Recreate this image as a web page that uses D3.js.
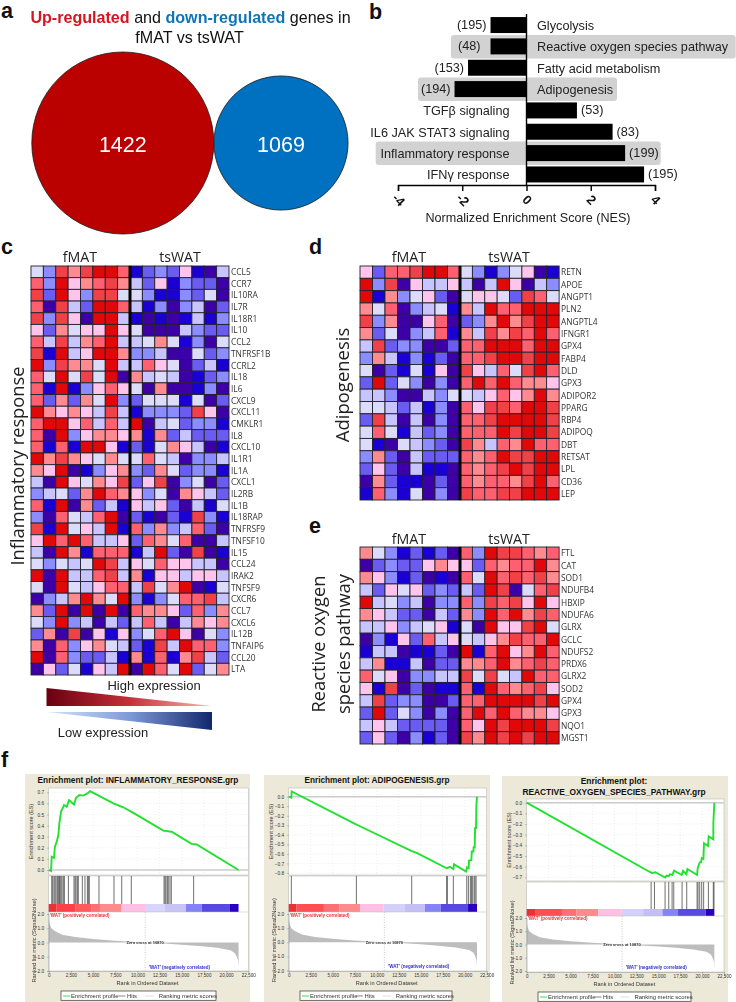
<!DOCTYPE html>
<html><head><meta charset="utf-8">
<script src="https://cdn.jsdelivr.net/npm/d3@7/dist/d3.min.js"></script>
<style>
html,body{margin:0;padding:0;background:#fff;overflow:hidden}
svg{display:block}
.ar{font-family:"Liberation Sans",Arial,sans-serif}
.ca{font-family:"Open Sans","Noto Sans",sans-serif}
.soft{filter:blur(.35px)}
.softer{filter:blur(.55px)}
</style></head><body><div id="c"></div>
<script>
// ---------- panel a ----------
const vennLabels = ["Up-regulated","down-regulated"];
const vennCounts = [1422,1069];
// ---------- panel b ----------
const pathways = ["Glycolysis","Reactive oxygen species pathway","Fatty acid metabolism","Adipogenesis","TGFβ signaling","IL6 JAK STAT3 signaling","Inflammatory response","IFNγ response"];
const nes = [-1.12,-1.12,-1.82,-2.24,1.57,2.68,3.07,3.66];
const geneSetSizes = [195,48,153,194,53,83,199,195];
const nesTicks = [-4,-2,0,2,4];
// ---------- panels c, d, e: heat levels a(lowest) .. k(highest) ----------
const heatLevels = "abcdefghijk".split("");
const heatColors = ["#3c00a6","#1a00d2","#6a5cf0","#8a8cff","#c8c4ff","#dcdcfa","#ffc4ec","#ff8a90","#ff6070","#f04048","#e00808"];
const inflGenes = ["CCL5","CCR7","IL10RA","IL7R","IL18R1","IL10","CCL2","TNFRSF1B","CCRL2","IL18","IL6","CXCL9","CXCL11","CMKLR1","IL8","CXCL10","IL1R1","IL1A","CXCL1","IL2RB","IL1B","IL18RAP","TNFRSF9","TNFSF10","IL15","CCL24","IRAK2","TNFSF9","CXCR6","CCL7","CXCL6","IL12B","TNFAIP6","CCL20","LTA"];
const inflHeat = ["fdjhjkkibcdcgbae","idkghijhecgbdcca","jckgdjjffdbbdcfa","iajeckkiebdadeac","jdjgakkebababebd","gchfggkgfaaaedcc","iejehikeefhfbdaf","jbkegkkhddeaafcd","kdjhhfkeeigfaceb","ifkfjfkahefeabcd","ibkbdgigfahaabda","ichchfkdcfffbfac","khghgejebdddcjga","ikkgieiekaefcddb","iakdghhghbhceccc","ibibkkgbcbfhgeab","khjhgfhffifeadde","hgkabdghdchfcddb","eakgfhgjcgjadfac","defchkihgdfahgec","ibkahcebgegcaebf","daifeikacbacbjdb","jbkfgekbidhdeica","gkikieegcihfiaae","eakhbiiibekcajab","fdfefkjegfiggeea","kakeeijehbggegge","fakfegiiejfhkabf","adehkhfkdbdfiije","hckakakaihhgcidh","fdkdeaeceieaehgh","chajagbgdfikgafd","haidghfecbjekiid","kaidccebhbibhjec","agcfbgekakifkcfh"];
const adipoGenes = ["RETN","APOE","ANGPT1","PLN2","ANGPTL4","IFNGR1","GPX4","FABP4","DLD","GPX3","ADIPOR2","PPARG","RBP4","ADIPOQ","DBT","RETSAT","LPL","CD36","LEP"];
const adipoHeat = ["gciijkkifdbdfgab","kdjageegeaekgaed","kbhdfgcafggfcjif","hfiadefbhekiikkk","jdhaagiacdhkhjkk","hcfadeibhejhjiki","ejcddaaciikkkikk","dhebdbcaiijkkjkk","facbfbgajgeifjki","ckcfdadaikikihhg","eedaaedffegighkh","ffecebdaigjjikkj","cjeaeadaiijkkkkj","fifbecdaiiikjkkj","fbafedcajheihkii","dhcaecccihikjjkk","cgcaebbaihijkjkk","ahcbbacaihiihjki","bidbfadajiijjkkk"];
const rosGenes = ["FTL","CAT","SOD1","NDUFB4","HBXIP","NDUFA6","GLRX","GCLC","NDUFS2","PRDX6","GLRX2","SOD2","GPX4","GPX3","NQO1","MGST1"];
const rosHeat = ["hfdbcbcaidkjjihi","acdccghggcihiikh","hgdbcabaifkijijh","ecgfgcdceckjafij","kefdeaddidjijgkg","hgeccaechdkikhji","eegdefgbfakggjkf","adbgciegfeghjiik","beeabbcakbikghki","ehbbeacchhikhiji","ifgaddeejfjfekii","gbjacabbibkihijg","ejcddaaciikkkkjk","ckcfdadaikikihhg","egeccccaigkjkkkj","cgcadbcajhkjkjkk"];
// ---------- panel f ----------
const rankTicks = [0,2500,5000,7500,10000,12500,15000,17500,20000,22500];
const metricTicks = [-2,-1,0,1,2];
const rankedMetric = [[0,1.7],[100,1.3],[300,1.0],[700,.8],[1500,.55],[3000,.38],[5000,.25],[7500,.13],[10870,0],[13000,-.07],[15000,-.15],[17000,-.25],[19000,-.37],[20500,-.55],[21000,-.75],[21200,-1.0],[21350,-1.3],[21400,-1.8]];
const barColors = ["#ec3038","#ff4f50","#ff7074","#ff8a8c","#ffc0e4","#d4d0fa","#c4c0f6","#8484f8","#5848e4","#2a00c0"];
const inflBarColors = ["#ec3038","#ff4048","#ff5a5c","#ff7074","#ff8a8c","#ffc0e4","#d8d4fa","#c8c4f6","#8484f8","#5848e4","#2a00c0"];
const inflES = [[0,0],[260,-.01],[340,.12],[600,.11],[700,.21],[900,.255],[1090,.315],[1200,.42],[1390,.525],[1730,.585],[2030,.57],[2290,.63],[2850,.59],[3080,.65],[3460,.675],[3900,.67],[4360,.69],[4660,.71],[5630,.67],[7290,.6],[8400,.565],[9540,.515],[12920,.355],[13860,.345],[16110,.235],[16680,.23],[21400,0]];
const inflHits = [340,450,600,710,830,980,1090,1200,1280,1390,1500,1650,1770,2220,2850,2970,3080,3230,3340,3790,4090,4360,4470,4580,5670,7360,8230,9310,13000,13110,13220,13370,13480,13670,13820,16340];
const inflBar = [900,3000,4800,5780,8150,10855,13100,15470,17240,20430,21400];
const adipoES = [[0,0],[300,-.01],[340,.055],[7540,-.285],[8100,-.31],[13980,-.57],[14550,-.59],[17950,-.75],[18330,-.735],[18710,-.76],[18790,-.71],[20150,-.785],[20270,-.74],[20450,-.75],[20490,-.67],[20760,-.665],[20800,-.575],[20990,-.575],[21020,-.53],[21140,-.53],[21175,-.33],[21290,-.33],[21330,-.09],[21400,0]];
const adipoHits = [300,7690,13980,17950,18030,18710,20230,20420,20640,20760,20870,21060,21170,21290];
const adipoBar = [900,4000,5760,8100,10760,13220,15490,17270,20380,21400];
const rosES = [[0,0],[14040,-.65],[14300,-.66],[14680,-.653],[15780,-.703],[15940,-.684],[16200,-.69],[16310,-.672],[16620,-.678],[16810,-.637],[17680,-.678],[17830,-.64],[18210,-.672],[18330,-.622],[19430,-.678],[19500,-.615],[19730,-.56],[19880,-.56],[19960,-.52],[20150,-.528],[20220,-.38],[20680,-.406],[20750,-.316],[21280,-.344],[21290,-.184],[21400,0]];
const rosHits = [14190,14570,15780,16200,16580,16770,17720,18250,19430,19540,19730,19960,20180,20720,21280,21360];
const rosBar = [950,4020,5690,8160,10850,13280,15480,17260,20410,21400];

const W=736,H=1002;
const svg=d3.select("#c").append("svg").attr("width",W).attr("height",H).attr("viewBox",[0,0,W,H]);
const defs=svg.append("defs");

function letter(t,x,y){svg.append("text").attr("class","ar").attr("x",x).attr("y",y).attr("font-size",21.5).attr("font-weight",700).attr("fill","#111").text(t);}
letter("a",1,18);letter("b",369,19);letter("c",1,254);letter("d",309,254);letter("e",309,533);letter("f",1,767);

// ---------- a ----------
const ga=svg.append("g").attr("class","ar soft");
const rScale=d3.scaleLinear().domain([0,1422]).range([0,91]);
const red="#bb0000",blue="#0070c0";
const vennX=[122.8,281];
[0,1].forEach(i=>{
  ga.append("circle").attr("cx",vennX[i]).attr("cy",143).attr("r",rScale(vennCounts[i])*(i?0.98:1)).attr("fill",i?blue:red).attr("stroke","#1a1a1a").attr("stroke-width",.8);
  ga.append("text").attr("x",vennX[i]).attr("y",152).attr("text-anchor","middle").attr("font-size",21.5).attr("fill","#fff").text(vennCounts[i]);
});
const t1=ga.append("text").attr("x",190.5).attr("y",23).attr("text-anchor","middle").attr("font-size",16.1).attr("fill","#111");
t1.append("tspan").attr("font-weight",700).attr("fill","#d8141e").text(vennLabels[0]);
t1.append("tspan").text(" and ");
t1.append("tspan").attr("font-weight",700).attr("fill","#0f74b8").text(vennLabels[1]);
t1.append("tspan").text(" genes in");
ga.append("text").attr("x",189.5).attr("y",43).attr("text-anchor","middle").attr("font-size",16.1).attr("fill","#111").text("fMAT vs tsWAT");

// ---------- b ----------
const gb=svg.append("g").attr("class","ar soft");
const xB=d3.scaleLinear().domain([-4,4]).range([398,655]);
const yB=d3.scaleBand().domain(pathways).range([14.5,185]).paddingInner(.25).paddingOuter(.12);
const highlight=[[pathways[1],451,735.7],[pathways[3],418,617],[pathways[6],375.7,660.7]];
gb.selectAll("rect.hl").data(highlight).join("rect").attr("class","hl").attr("x",d=>d[1]).attr("width",d=>d[2]-d[1]).attr("y",d=>yB(d[0])+yB.bandwidth()/2-11.5).attr("height",23.5).attr("rx",3).attr("fill","#d2d2d2");
gb.selectAll("rect.bar").data(pathways).join("rect").attr("class","bar")
 .attr("x",(d,i)=>Math.min(xB(0),xB(nes[i]))).attr("width",(d,i)=>Math.abs(xB(nes[i])-xB(0))).attr("y",d=>yB(d)).attr("height",yB.bandwidth()).attr("fill","#000");
pathways.forEach((p,i)=>{
  const neg=nes[i]<0, cy=yB(p)+yB.bandwidth()/2+5;
  gb.append("text").attr("x",neg?537:509.5).attr("y",cy).attr("text-anchor",neg?"start":"end").attr("font-size",12.7).attr("fill","#222").text(p);
  gb.append("text").attr("x",xB(nes[i])+(neg?-(i==1?10:4):4)).attr("y",cy-1).attr("text-anchor",neg?"end":"start").attr("font-size",12.7).attr("fill","#222").text("("+geneSetSizes[i]+")");
});
const axB=d3.axisBottom(xB).tickValues(nesTicks).tickSize(6).tickFormat(d=>d);
const gaxB=gb.append("g").attr("transform","translate(0,185)").call(axB);
gaxB.select(".domain").attr("stroke","#000").attr("stroke-width",1.4);
gaxB.selectAll(".tick line").attr("stroke","#000").attr("stroke-width",1.4);
gaxB.selectAll(".tick text").attr("font-family","Liberation Sans").attr("font-size",13).attr("font-weight",700).attr("fill","#111").attr("text-anchor","middle").attr("transform","translate(0,15) rotate(45)").attr("dy",".32em").attr("y",0).attr("x",0);
gb.append("line").attr("x1",xB(0)).attr("x2",xB(0)).attr("y1",14).attr("y2",185).attr("stroke","#000").attr("stroke-width",1.4);
gb.append("text").attr("x",528).attr("y",222).attr("text-anchor","middle").attr("font-size",12.6).attr("fill","#222").text("Normalized Enrichment Score (NES)");

// ---------- heatmaps ----------
const colorHeat=d3.scaleOrdinal().domain(heatLevels).range(heatColors);
function heat(genes,rows,x0,xm,x1,y0,y1,hy,fx,tx){
  const g=svg.append("g").attr("class","ca soft");
  const xL=d3.scaleBand().domain(d3.range(8)).range([x0,xm]);
  const xR=d3.scaleBand().domain(d3.range(8,16)).range([xm,x1]);
  const y=d3.scaleBand().domain(genes).range([y0,y1]);
  genes.forEach((gene,r)=>{
    const cells=rows[r].split("");
    g.append("g").selectAll("rect").data(cells).join("rect")
      .attr("x",(d,i)=>i<8?xL(i):xR(i)).attr("y",y(gene)).attr("width",xL.bandwidth()).attr("height",y.bandwidth())
      .attr("fill",d=>colorHeat(d)).attr("stroke","#22222e").attr("stroke-width",.9);
    g.append("text").attr("x",x1+2).attr("y",y(gene)+y.bandwidth()/2+3.2).attr("font-size",8.4).attr("fill","#333").text(gene);
  });
  g.append("rect").attr("x",xm-1.5).attr("y",y0).attr("width",3).attr("height",y1-y0).attr("fill","#000");
  g.append("text").attr("x",fx).attr("y",hy).attr("text-anchor","middle").attr("font-size",14.2).attr("fill","#222").text("fMAT");
  g.append("text").attr("x",tx).attr("y",hy).attr("text-anchor","middle").attr("font-size",14.2).attr("fill","#222").text("tsWAT");
}
heat(inflGenes,inflHeat,31,130,229,266,675,262,80,180);
heat(adipoGenes,adipoHeat,360,460,559,266,500,262,409,509);
heat(rosGenes,rosHeat,360,460,559,547,744,544,409,509);
function vtext(lines,x,cy,size){
  const g=svg.append("g").attr("class","ca soft");
  lines.forEach((l,i)=>g.append("text").attr("transform",`translate(${x+i*25},${cy}) rotate(-90)`).attr("text-anchor","middle").attr("font-size",size).attr("fill","#222").text(l));
}
vtext(["Inflammatory response"],24,466,18.3);
vtext(["Adipogenesis"],349,385,18.5);
vtext(["Reactive oxygen","species pathway"],325,644,18.3);

// legend gradients
const gl=svg.append("g").attr("class","ar soft");
const gr=defs.append("linearGradient").attr("id","gr");gr.append("stop").attr("offset",0).attr("stop-color","#6a0010");gr.append("stop").attr("offset",.5).attr("stop-color","#c43038");gr.append("stop").attr("offset",1).attr("stop-color","#ffb4b4");
const gbl=defs.append("linearGradient").attr("id","gb");gbl.append("stop").attr("offset",0).attr("stop-color","#d8e4f8");gbl.append("stop").attr("offset",.5).attr("stop-color","#7f9ad8");gbl.append("stop").attr("offset",1).attr("stop-color","#12286c");
gl.append("path").attr("d",d3.line()([[46.5,688],[212,706],[46.5,706]])+"Z").attr("fill","url(#gr)");
gl.append("path").attr("d",d3.line()([[46.5,712],[212,712],[212,730]])+"Z").attr("fill","url(#gb)");
gl.append("text").attr("x",154).attr("y",690).attr("text-anchor","middle").attr("font-size",13).attr("fill","#222").text("High expression");
gl.append("text").attr("x",103).attr("y",737).attr("text-anchor","middle").attr("font-size",13).attr("fill","#222").text("Low expression");

// ---------- f: GSEA ----------
function gsea(o){
  const g=svg.append("g").attr("class","ar softer");
  g.append("rect").attr("x",o.bx0).attr("y",o.by0).attr("width",o.bx1-o.bx0).attr("height",1002-o.by0).attr("fill","#ece9d8");
  o.title.forEach((t,i)=>g.append("text").attr("x",o.tx).attr("y",o.ty[i]).attr("text-anchor","middle").attr("font-size",o.tsize).attr("font-weight",700).attr("fill","#111").text(t));
  const x=d3.scaleLinear().domain([0,22500]).range([o.x0,o.x1]);
  g.append("rect").attr("x",o.x0).attr("y",o.top).attr("width",o.x1-o.x0).attr("height",o.esB-o.top).attr("fill","#fff").attr("stroke","#bbb").attr("stroke-width",.6);
  g.append("rect").attr("x",o.x0).attr("y",o.esB+1).attr("width",o.x1-o.x0).attr("height",o.botB-o.esB-1).attr("fill","#fff").attr("stroke","#bbb").attr("stroke-width",.6);
  const ye=d3.scaleLinear().domain(o.esDom).range(o.esRange);
  const ym=d3.scaleLinear().domain([2,-2]).range([o.m2,o.mN2]);
  g.append("g").selectAll("line").data(ye.ticks(o.esTicks)).join("line").attr("x1",o.x0).attr("x2",o.x1).attr("y1",d=>ye(d)).attr("y2",d=>ye(d)).attr("stroke","#ddd").attr("stroke-width",.5).attr("stroke-dasharray","1,2");
  g.append("g").selectAll("line").data(rankTicks).join("line").attr("x1",d=>x(d)).attr("x2",d=>x(d)).attr("y1",o.top).attr("y2",o.esB).attr("stroke","#ddd").attr("stroke-width",.5).attr("stroke-dasharray","1,2");
  g.append("line").attr("x1",o.x0).attr("x2",o.x1).attr("y1",ye(0)).attr("y2",ye(0)).attr("stroke","#ccc").attr("stroke-width",1.6);
  g.append("path").attr("d",d3.line().x(d=>x(d[0])).y(d=>ye(d[1]))(o.es)).attr("fill","none").attr("stroke","#22e030").attr("stroke-width",1.9);
  const ax=d3.axisLeft(ye).ticks(o.esTicks).tickSize(1.5).tickFormat(d3.format(".1f"));
  const ga1=g.append("g").attr("transform",`translate(${o.x0},0)`).call(ax);
  ga1.select(".domain").remove();
  ga1.selectAll("text").attr("font-family","Liberation Sans").attr("font-size",4.8).attr("fill","#333");
  ga1.selectAll("line").attr("stroke","#666").attr("stroke-width",.4);
  g.append("g").selectAll("line").data(o.hits).join("line").attr("x1",d=>x(d)).attr("x2",d=>x(d)).attr("y1",o.hitT).attr("y2",o.barT).attr("stroke","#333").attr("stroke-opacity",.7).attr("stroke-width",1);
  const segs=o.bar.map((e,i)=>[i?o.bar[i-1]:0,e]);
  g.append("g").selectAll("rect").data(segs).join("rect").attr("x",d=>x(d[0])).attr("width",d=>x(d[1])-x(d[0])).attr("y",o.barT).attr("height",o.barB-o.barT).attr("fill",(d,i)=>o.barCols[i]);
  g.append("line").attr("x1",o.x0).attr("x2",o.x1).attr("y1",o.barB).attr("y2",o.barB).attr("stroke","#bbb").attr("stroke-width",.5);
  g.append("path").attr("d",d3.area().x(d=>x(d[0])).y0(ym(0)).y1(d=>ym(d[1]))(rankedMetric)).attr("fill","#bdbdbd");
  g.append("line").attr("x1",x(10870)).attr("x2",x(10870)).attr("y1",o.barB).attr("y2",ym(-2)).attr("stroke","#999").attr("stroke-width",.5).attr("stroke-dasharray","1,1.5");
  const ax2=d3.axisLeft(ym).tickValues(metricTicks).tickSize(1.5);
  const ga2=g.append("g").attr("transform",`translate(${o.x0},0)`).call(ax2);
  ga2.select(".domain").attr("stroke","#888").attr("stroke-width",.4);
  ga2.selectAll("text").attr("font-family","Liberation Sans").attr("font-size",4.8).attr("fill","#333");
  ga2.selectAll("line").attr("stroke","#666").attr("stroke-width",.4);
  const ax3=d3.axisBottom(x).tickValues(rankTicks).tickSize(1.5).tickFormat(d3.format(","));
  const ga3=g.append("g").attr("transform",`translate(0,${o.botB})`).call(ax3);
  ga3.select(".domain").attr("stroke","#888").attr("stroke-width",.4);
  ga3.selectAll("text").attr("font-family","Liberation Sans").attr("font-size",4.6).attr("fill","#333").attr("y",3).attr("dy",".7em");
  ga3.selectAll("line").attr("stroke","#666").attr("stroke-width",.4);
  g.append("text").attr("x",x(1)+1).attr("y",ym(2)+o.posDy).attr("font-size",4.5).attr("font-weight",700).attr("fill","#e83030").text("'WAT' (positively correlated)");
  g.append("text").attr("x",x(11300)).attr("y",ym(-2)-2.5).attr("font-size",4.5).attr("font-weight",700).attr("fill","#3030d0").text("'WAT' (negatively correlated)");
  g.append("text").attr("x",x(10870)).attr("y",ym(0)+1.5).attr("text-anchor","middle").attr("font-size",4).attr("font-weight",700).attr("fill","#333").text("Zero cross at 10870");
  g.append("text").attr("x",(o.x0+o.x1)/2-1).attr("y",o.botB+13.6).attr("text-anchor","middle").attr("font-size",5.6).attr("fill","#333").text("Rank in Ordered Dataset");
  g.append("text").attr("transform",`translate(${o.x0-15.5},${(o.top+o.esB)/2}) rotate(-90)`).attr("text-anchor","middle").attr("font-size",5.5).attr("fill","#333").text("Enrichment score (ES)");
  g.append("text").attr("transform",`translate(${o.x0-12.5},${(o.m2+o.mN2)/2-2}) rotate(-90)`).attr("text-anchor","middle").attr("font-size",5.7).attr("fill","#333").text("Ranked list metric (Signal2Noise)");
  const lg=g.append("g").attr("transform",`translate(${o.lx},${o.ly})`);
  lg.append("rect").attr("width",o.lw).attr("height",9.3).attr("fill","#fff").attr("stroke","#333").attr("stroke-width",.7);
  lg.append("line").attr("x1",2).attr("x2",9).attr("y1",5).attr("y2",5).attr("stroke","#22e030").attr("stroke-width",.9);
  lg.append("text").attr("x",10).attr("y",6.7).attr("font-size",5.9).attr("fill","#333").text("Enrichment profile");
  lg.append("line").attr("x1",o.lw*.37).attr("x2",o.lw*.415).attr("y1",5).attr("y2",5).attr("stroke","#333").attr("stroke-width",.6);
  lg.append("text").attr("x",o.lw*.425).attr("y",6.7).attr("font-size",5.9).attr("fill","#333").text("Hits");
  lg.append("line").attr("x1",o.lw*.54).attr("x2",o.lw*.6).attr("y1",5).attr("y2",5).attr("stroke","#ccc").attr("stroke-width",.6);
  lg.append("text").attr("x",o.lw*.63).attr("y",6.7).attr("font-size",5.9).attr("fill","#333").text("Ranking metric scores");
}
gsea({bx0:25,bx1:250,by0:774,title:["Enrichment plot: INFLAMMATORY_RESPONSE.grp"],tx:138,ty:[783],tsize:8.3,x0:48.7,x1:248.3,top:788,esB:875,botB:971,hitT:876,barT:904,barB:912,m2:914,mN2:971,esDom:[0,.7],esRange:[870,792.3],esTicks:7,es:inflES,hits:inflHits,bar:inflBar,barCols:inflBarColors,posDy:3,lx:61,ly:991,lw:155});
gsea({bx0:264,bx1:490,by0:775,title:["Enrichment plot: ADIPOGENESIS.grp"],tx:377,ty:[783],tsize:8.2,x0:288.7,x1:486.7,top:788,esB:875,botB:971,hitT:876,barT:904,barB:912,m2:914,mN2:970.5,esDom:[0,-.8],esRange:[796.7,873],esTicks:8,es:adipoES,hits:adipoHits,bar:adipoBar,barCols:barColors,posDy:3,lx:300,ly:991,lw:152});
gsea({bx0:502,bx1:728,by0:776,title:["Enrichment plot:","REACTIVE_OXYGEN_SPECIES_PATHWAY.grp"],tx:614,ty:[784,795],tsize:8.4,x0:526.7,x1:724,top:799,esB:881,botB:972,hitT:882,barT:909,barB:916,m2:918,mN2:971,esDom:[0,-.7],esRange:[802.7,877.3],esTicks:7,es:rosES,hits:rosHits,bar:rosBar,barCols:barColors,posDy:2,lx:538,ly:992,lw:153});
</script></body></html>
